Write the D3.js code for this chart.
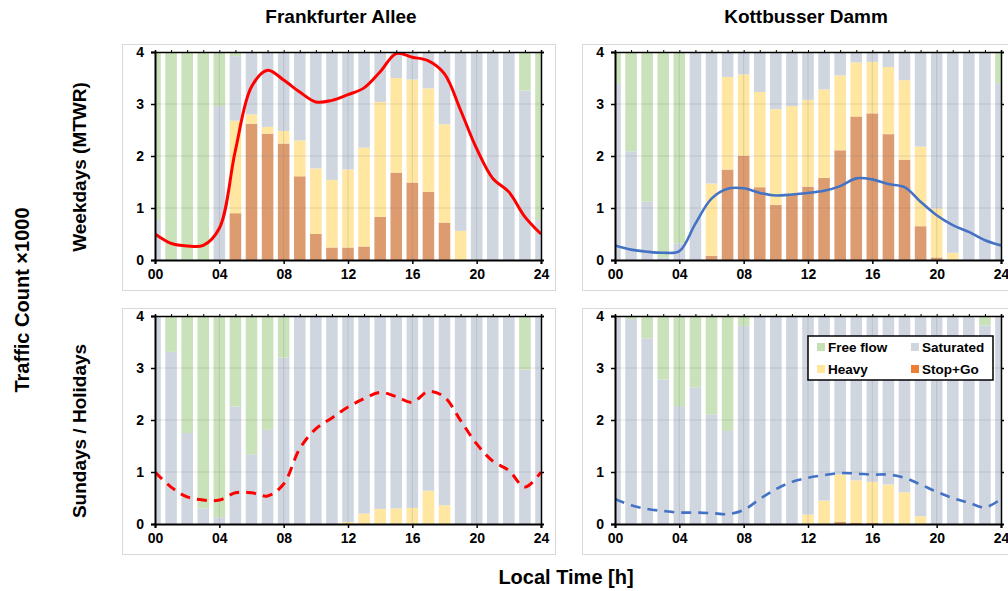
<!DOCTYPE html>
<html><head><meta charset="utf-8">
<script src="https://cdn.jsdelivr.net/npm/d3@7"></script>
<style>
body{margin:0;background:#fff}
text{font-family:"Liberation Sans",Arial,sans-serif;font-weight:bold;fill:#000}
</style>
</head><body>
<svg id="c" width="1008" height="591"></svg>
<script>
// ---------- data ----------
const hours = [0,1,2,3,4,5,6,7,8,9,10,11,12,13,14,15,16,17,18,19,20,21,22,23,24];
const xTickValues = [0,4,8,12,16,20,24];
const xTickLabels = ["00","04","08","12","16","20","24"];
const yTickValues = [0,1,2,3,4];
const categories = ["Stop+Go","Heavy","Saturated","Free flow"];
const legendOrder = ["Free flow","Saturated","Heavy","Stop+Go"];
const titles = ["Frankfurter Allee","Kottbusser Damm"];
const rowLabels = ["Weekdays (MTWR)","Sundays / Holidays"];

// Frankfurter Allee, weekdays
const faWdStop  = [0,0,0,0,0,0.9,2.62,2.43,2.24,1.61,0.5,0.24,0.24,0.26,0.83,1.68,1.49,1.31,0.72,0,0,0,0,0,0];
const faWdHeavy = [0,0,0,0,0,1.78,0.18,0.13,0.24,0.69,1.26,1.3,1.5,1.9,2.21,1.82,1.98,1.99,1.89,0.56,0,0,0,0,0];
const faWdSat   = [0.77,0,0,0,2.96,1.24,1.2,1.44,1.52,1.7,2.24,2.46,2.26,1.84,0.96,0.5,0.53,0.7,1.39,3.44,4,4,4,3.26,0.77];
const faWdFree  = [3.23,4,4,4,1.04,0.08,0,0,0,0,0,0,0,0,0,0,0,0,0,0,0,0,0,0.74,3.23];
const faWdCount = [0.5,0.32,0.27,0.28,0.61,2.11,3.33,3.65,3.46,3.23,3.04,3.07,3.18,3.31,3.62,3.97,3.9,3.83,3.58,2.88,2.14,1.57,1.31,0.83,0.5];

// Kottbusser Damm, weekdays
const kdWdStop  = [0,0,0,0,0,0,0.08,1.74,2.0,1.4,1.06,1.25,1.41,1.58,2.11,2.76,2.82,2.42,1.93,0.65,0.05,0,0,0,0];
const kdWdHeavy = [0,0,0,0,0,0,1.39,1.78,1.57,1.83,1.84,1.71,1.67,1.7,1.44,1.04,0.99,1.29,1.53,1.53,0.94,0.14,0,0,0];
const kdWdSat   = [3.4,2.09,1.12,0.05,0.32,4,2.53,0.48,0.43,0.77,1.1,1.04,0.92,0.72,0.45,0.2,0.19,0.29,0.54,1.82,3.01,3.86,4,4,3.4];
const kdWdFree  = [0.6,1.91,2.88,3.95,3.68,0,0,0,0,0,0,0,0,0,0,0,0,0,0,0,0,0,0,0,0.6];
const kdWdCount = [0.28,0.2,0.16,0.14,0.17,0.7,1.18,1.37,1.38,1.29,1.24,1.26,1.29,1.33,1.42,1.57,1.55,1.46,1.4,1.12,0.86,0.67,0.54,0.38,0.28];

// Frankfurter Allee, Sundays / holidays
const faSuStop  = [0,0,0,0,0,0,0,0,0,0,0,0,0,0,0,0,0,0,0,0,0,0,0,0,0];
const faSuHeavy = [0,0,0,0,0,0,0,0,0,0,0,0,0.04,0.2,0.29,0.3,0.31,0.64,0.36,0,0,0,0,0,0];
const faSuSat   = [4,3.31,1.75,0.3,0.13,2.26,1.34,1.81,3.2,4,4,4,3.96,3.8,3.71,3.7,3.69,3.36,3.64,4,4,4,4,2.97,4];
const faSuFree  = [0,0.69,2.25,3.7,3.87,1.74,2.66,2.19,0.8,0,0,0,0,0,0,0,0,0,0,0,0,0,0,1.03,0];
const faSuCount = [1.0,0.71,0.52,0.46,0.46,0.6,0.6,0.54,0.77,1.45,1.83,2.04,2.25,2.41,2.53,2.45,2.34,2.55,2.44,1.99,1.54,1.21,1.03,0.71,1.0];

// Kottbusser Damm, Sundays / holidays
const kdSuStop  = [0,0,0,0,0,0,0,0,0,0,0,0,0,0,0.04,0.02,0.02,0,0,0,0,0,0,0,0];
const kdSuHeavy = [0,0,0,0,0,0,0,0,0,0,0,0,0.18,0.45,0.91,0.82,0.79,0.76,0.61,0.15,0,0,0,0,0];
const kdSuSat   = [4,3.94,3.57,2.78,2.27,2.63,2.11,1.79,3.81,4,4,4,3.82,3.55,3.05,3.16,3.19,3.24,3.39,3.85,4,4,4,3.82,4];
const kdSuFree  = [0,0.06,0.43,1.22,1.73,1.37,1.89,2.21,0.19,0,0,0,0,0,0,0,0,0,0,0,0,0,0,0.18,0];
const kdSuCount = [0.48,0.36,0.29,0.25,0.22,0.22,0.21,0.19,0.27,0.48,0.67,0.81,0.89,0.94,0.98,0.97,0.95,0.95,0.89,0.76,0.62,0.5,0.41,0.32,0.48];

// ---------- styles ----------
const barColors = {"Stop+Go":"#dc9c70","Heavy":"#ffe6a1","Saturated":"#cfd6e0","Free flow":"#c9e2b9"};
const legendColors = {"Stop+Go":"#ed7d31","Heavy":"#ffe699","Saturated":"#d0d6e0","Free flow":"#c6e0b4"};

const panels = [
  {x0:155, y0:52,  stop:faWdStop, heavy:faWdHeavy, sat:faWdSat, free:faWdFree, count:faWdCount, color:"#ff0000", width:3,   dash:null},
  {x0:615, y0:52,  stop:kdWdStop, heavy:kdWdHeavy, sat:kdWdSat, free:kdWdFree, count:kdWdCount, color:"#4472c4", width:2.6, dash:null},
  {x0:155, y0:316, stop:faSuStop, heavy:faSuHeavy, sat:faSuSat, free:faSuFree, count:faSuCount, color:"#ff0000", width:3,   dash:"10,7"},
  {x0:615, y0:316, stop:kdSuStop, heavy:kdSuHeavy, sat:kdSuSat, free:kdSuFree, count:kdSuCount, color:"#4472c4", width:2.6, dash:"10,7", legend:true}
];
const W = 386, H = 208;

const svg = d3.select("#c");

panels.forEach((p, i) => {
  // panel frame
  svg.append("rect").attr("x", p.x0 - 32.5).attr("y", p.y0 - 7.5)
    .attr("width", 433).attr("height", 246)
    .attr("fill", "none").attr("stroke", "#d9d9d9").attr("stroke-width", 1);

  const g = svg.append("g").attr("transform", `translate(${p.x0},${p.y0})`);
  const x = d3.scaleLinear().domain([0,24]).range([0,W]);
  const y = d3.scaleLinear().domain([0,4]).range([H,0]);

  const clipId = "clip" + i;
  g.append("clipPath").attr("id", clipId).append("rect").attr("width", W).attr("height", H);

  const rows = hours.map((h, k) => ({h, "Stop+Go":p.stop[k], "Heavy":p.heavy[k], "Saturated":p.sat[k], "Free flow":p.free[k]}));
  const stacked = d3.stack().keys(categories)(rows);
  const bw = x(0.72) - x(0);

  const bars = g.append("g").attr("clip-path", `url(#${clipId})`);
  stacked.forEach(layer => {
    bars.selectAll(null).data(layer).enter().append("rect")
      .attr("x", d => x(d.data.h) - bw/2)
      .attr("width", bw)
      .attr("y", d => y(d[1]))
      .attr("height", d => Math.max(0, y(d[0]) - y(d[1])))
      .attr("fill", barColors[layer.key]);
  });

  // gridlines (over bars, translucent)
  const grid = g.append("g");
  grid.selectAll(null).data([1,2,3]).enter().append("line")
    .attr("x1", 0).attr("x2", W).attr("y1", d => y(d)).attr("y2", d => y(d))
    .attr("stroke", "rgba(110,110,110,0.2)").attr("stroke-width", 1);
  grid.selectAll(null).data([4,8,12,16,20]).enter().append("line")
    .attr("y1", 0).attr("y2", H).attr("x1", d => x(d)).attr("x2", d => x(d))
    .attr("stroke", "rgba(110,110,110,0.2)").attr("stroke-width", 1);

  // count line
  const line = d3.line().x((d, k) => x(hours[k])).y(d => y(d)).curve(d3.curveCatmullRom.alpha(0.5));
  g.append("path").datum(p.count).attr("d", line)
    .attr("fill", "none").attr("stroke", p.color).attr("stroke-width", p.width)
    .attr("stroke-dasharray", p.dash).attr("stroke-linecap", "butt")
    .attr("clip-path", `url(#${clipId})`);

  // axes
  const ax = g.append("g").attr("transform", `translate(0,${H})`)
    .call(d3.axisBottom(x).tickValues(xTickValues).tickFormat((d, k) => xTickLabels[k]).tickSize(4).tickPadding(5));
  ax.select(".domain").attr("stroke", "#000").attr("stroke-width", 2);
  ax.selectAll(".tick line").attr("stroke", "#000").attr("stroke-width", 1.5);
  ax.selectAll("text").style("font-size", "14px").style("font-family", '"Liberation Sans",Arial,sans-serif').style("font-weight", "bold");

  const ay = g.append("g")
    .call(d3.axisLeft(y).tickValues(yTickValues).tickFormat(d3.format("d")).tickSize(4).tickPadding(7));
  ay.select(".domain").attr("stroke", "#000").attr("stroke-width", 2);
  ay.selectAll(".tick line").attr("stroke", "#000").attr("stroke-width", 1.5);
  ay.selectAll("text").style("font-size", "14px").style("font-family", '"Liberation Sans",Arial,sans-serif').style("font-weight", "bold");

  const ar = g.append("g").attr("transform", `translate(${W},0)`)
    .call(d3.axisRight(y).tickValues(yTickValues).tickFormat("").tickSize(3));
  ar.select(".domain").attr("stroke", "#000").attr("stroke-width", 1.5);
  ar.selectAll(".tick line").attr("stroke", "#000").attr("stroke-width", 1.5);

  const at = g.append("g")
    .call(d3.axisTop(x).tickValues(hours).tickFormat("").tickSize(2));
  at.select(".domain").attr("stroke", "#000").attr("stroke-width", 1.5);
  at.selectAll(".tick line").attr("stroke", "#000").attr("stroke-width", 1);

  if (p.legend) {
    const lg = svg.append("g").attr("transform", "translate(808,336)");
    lg.append("rect").attr("width", 185).attr("height", 44)
      .attr("fill", "#fff").attr("stroke", "#000").attr("stroke-width", 1.5);
    legendOrder.forEach((k, j) => {
      const cx = (j % 2) * 94 + 9, cy = Math.floor(j / 2) * 22 + 7;
      lg.append("rect").attr("x", cx).attr("y", cy).attr("width", 8).attr("height", 8).attr("fill", legendColors[k]);
      lg.append("text").attr("x", cx + 11).attr("y", cy + 9).style("font-size", "13.5px").text(k);
    });
  }
});

// titles
svg.append("text").attr("x", 341).attr("y", 23).attr("text-anchor", "middle").style("font-size", "19px").text(titles[0]);
svg.append("text").attr("x", 806).attr("y", 23).attr("text-anchor", "middle").style("font-size", "19px").text(titles[1]);

// row labels
svg.append("text").attr("transform", "translate(86,167) rotate(-90)").attr("text-anchor", "middle").style("font-size", "19px").text(rowLabels[0]);
svg.append("text").attr("transform", "translate(86,431) rotate(-90)").attr("text-anchor", "middle").style("font-size", "19px").text(rowLabels[1]);
svg.append("text").attr("transform", "translate(29,300) rotate(-90)").attr("text-anchor", "middle").style("font-size", "20px").text("Traffic Count ×1000");
svg.append("text").attr("x", 566).attr("y", 584).attr("text-anchor", "middle").style("font-size", "20px").text("Local Time [h]");
</script>
</body></html>
